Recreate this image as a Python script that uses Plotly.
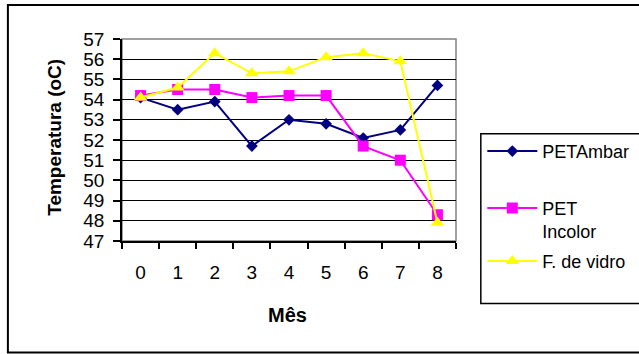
import plotly.graph_objects as go

# Monthly temperature readings per container type
months = ["0", "1", "2", "3", "4", "5", "6", "7", "8"]
pet_ambar = [54.1, 53.5, 53.9, 51.7, 53.0, 52.8, 52.1, 52.5, 54.7]
pet_incolor = [54.2, 54.5, 54.5, 54.1, 54.2, 54.2, 51.7, 51.0, 48.3]
fibra_vidro = [54.1, 54.6, 56.3, 55.3, 55.4, 56.1, 56.3, 55.9, 47.9]
y_ticks = [47, 48, 49, 50, 51, 52, 53, 54, 55, 56, 57]

W, H = 639, 354
L, R, T, B = 122, 455.7, 39, 241.3


def px(x):
    return (x - L) / (R - L)


def py(y):
    return (B - y) / (B - T)


FONT = "Liberation Sans, Arial, sans-serif"

fig = go.Figure()
fig.add_trace(go.Scatter(
    x=months, y=pet_ambar, name="PETAmbar", mode="lines+markers",
    line=dict(color="#000080", width=2),
    marker=dict(symbol="diamond", size=9, color="#000080"),
    legend="legend",
))
fig.add_trace(go.Scatter(
    x=months, y=pet_incolor, name="PET<br>Incolor", mode="lines+markers",
    line=dict(color="#FF00FF", width=2),
    marker=dict(symbol="square", size=11, color="#FF00FF"),
    legend="legend2",
))
fig.add_trace(go.Scatter(
    x=months, y=fibra_vidro, name="F. de vidro", mode="lines+markers",
    line=dict(color="#FFFF00", width=2),
    marker=dict(symbol="triangle-up", size=12, color="#FFFF00"),
    legend="legend3",
))


def legend_at(top):
    return dict(
        x=px(482), y=py(top), xanchor="left", yanchor="top",
        borderwidth=0, bgcolor="rgba(0,0,0,0)",
        font=dict(size=18), valign="top", itemwidth=50,
    )


fig.update_layout(
    width=W, height=H,
    margin=dict(l=L, r=W - R, t=T, b=H - B, autoexpand=False),
    paper_bgcolor="white", plot_bgcolor="white",
    font=dict(family=FONT, size=18, color="black"),
    xaxis=dict(
        type="category", range=[-0.5, 8.5], tickson="boundaries",
        ticks="outside", ticklen=6, tickwidth=1.5, tickcolor="black",
        showline=True, linecolor="black", linewidth=1.5,
        showgrid=False, ticklabelstandoff=13,
        tickfont=dict(size=19),
    ),
    yaxis=dict(
        range=[47, 57], tickvals=y_ticks,
        ticks="outside", ticklen=7, tickwidth=1.5, tickcolor="black",
        showline=True, linecolor="black", linewidth=1.5,
        showgrid=True, gridcolor="black", gridwidth=1.2,
        zeroline=False, ticklabelstandoff=5,
        tickfont=dict(size=19),
    ),
    showlegend=True,
    legend=legend_at(133),
    legend2=legend_at(190),
    legend3=legend_at(243),
    shapes=[
        # plot area frame (top / right edges)
        dict(type="rect", xref="paper", yref="paper", x0=0, x1=1, y0=0, y1=1,
             line=dict(color="#808080", width=1.5), layer="below"),
        # outer chart border
        dict(type="rect", xref="paper", yref="paper",
             x0=px(8), x1=px(660), y0=py(353), y1=py(5),
             line=dict(color="black", width=2)),
        # legend frame
        dict(type="rect", xref="paper", yref="paper",
             x0=px(480.5), x1=px(660), y0=py(304), y1=py(134),
             line=dict(color="black", width=1.5), layer="below"),
    ],
    annotations=[
        dict(text="<b>Temperatura (oC)</b>", xref="paper", yref="paper",
             x=px(55), y=py(137), textangle=-90, showarrow=False,
             xanchor="center", yanchor="middle", font=dict(size=19)),
        dict(text="<b>Mês</b>", xref="paper", yref="paper",
             x=px(287), y=py(315), showarrow=False,
             xanchor="center", yanchor="middle", font=dict(size=20)),
    ],
)

fig.write_html("out.html")
